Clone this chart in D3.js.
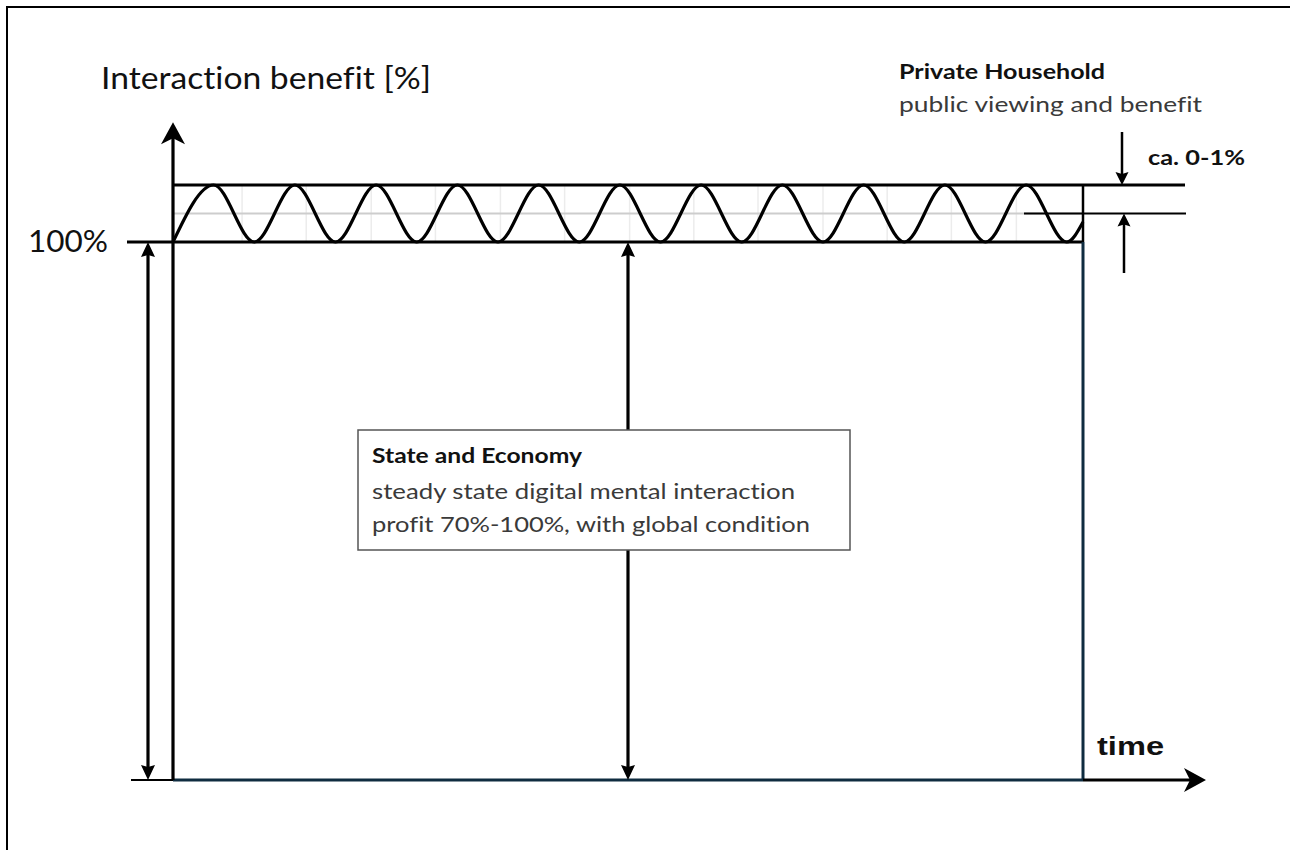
<!DOCTYPE html>
<html><head><meta charset="utf-8">
<script src="https://cdn.jsdelivr.net/npm/d3@7"></script>
<style>body{margin:0;background:#fff;overflow:hidden} svg{display:block} text{font-variant-ligatures:none;font-feature-settings:"liga" 0,"clig" 0}</style>
</head><body>
<svg id="c" width="1290" height="850"></svg>
<script>
// ---------- data ----------
const yLevels   = [0, 100, 101];          // base, 100 %, top of the private-household band (ca. 0-1 %)
const timeSpan  = [0, 11.2];              // time axis extent (in wave periods)
const waveT     = [0,0.5,1,1.5,2,2.5,3,3.5,4,4.5,5,5.5,6,6.5,7,7.5,8,8.5,9,9.5,10,10.5,11,11.2];
const waveV     = [100,101,100,101,100,101,100,101,100,101,100,101,100,101,100,101,100,101,100,101,100,101,100,100.35];
const gridT     = [0.85,1.64,2.44,3.23,4.03,4.82,5.62,6.41,7.2,8.0,8.79,9.58,10.38];
const bandMid   = 100.5;
const yAxisTop  = 102.1;
const midArrowT = 5.6;
const titleText = "Interaction benefit [%]";
const yTickLabel = "100%";
const phTitle = "Private Household";
const phText  = "public viewing and benefit";
const phRange = "ca. 0-1%";
const seTitle = "State and Economy";
const seLines = ["steady state digital mental interaction", "profit 70%-100%, with global condition"];
const xLabel  = "time";

// ---------- scales ----------
const x = d3.scaleLinear().domain(timeSpan).range([173, 1083]);
const y = d3.scaleLinear().domain(yLevels).range([780, 242, 185]);

const svg = d3.select("#c");
const navy = "#0f2c40";
const FONT = "Lato, 'Open Sans', sans-serif";

function line(x1,y1,x2,y2,w,c){
  svg.append("line").attr("x1",x1).attr("y1",y1).attr("x2",x2).attr("y2",y2)
    .attr("stroke",c||"#000").attr("stroke-width",w);
}
// arrow head: tip at (tx,ty), pointing direction dir ('up','down','right')
function head(tx,ty,dir,len,hw,notch){
  let pts;
  if(dir==="up")   pts=[[tx,ty],[tx+hw,ty+len],[tx,ty+len-notch],[tx-hw,ty+len]];
  if(dir==="down") pts=[[tx,ty],[tx+hw,ty-len],[tx,ty-len+notch],[tx-hw,ty-len]];
  if(dir==="right")pts=[[tx,ty],[tx-len,ty-hw],[tx-len+notch,ty],[tx-len,ty+hw]];
  svg.append("path").attr("d","M"+pts.map(p=>p.join(",")).join("L")+"Z").attr("fill","#000");
}

// outer frame (top & left edges visible)
svg.append("path").attr("d","M7,850 L7,7 L1290,7").attr("fill","none").attr("stroke","#000").attr("stroke-width",2);

// grid inside band
svg.selectAll(".g").data(gridT).enter().append("line")
  .attr("x1",d=>x(d)).attr("x2",d=>x(d)).attr("y1",y(101)).attr("y2",y(100))
  .attr("stroke","#ececec").attr("stroke-width",1.5);
line(x(0), y(bandMid), x(timeSpan[1]), y(bandMid), 2, "#cdcdcd");

// band lines
line(x(0), y(101), 1185, y(101), 3);
line(127, y(100), x(timeSpan[1]), y(100), 3);
line(x(timeSpan[1]), y(101), x(timeSpan[1]), y(100), 2.5);
// right annotation level line
line(1024, y(bandMid), 1186, y(bandMid), 2);

// wave
const waveData = waveT.map((t,i)=>[t, waveV[i]]);
svg.append("path").datum(waveData)
  .attr("d", d3.line().x(d=>x(d[0])).y(d=>y(d[1])).curve(d3.curveMonotoneX))
  .attr("fill","none").attr("stroke","#000").attr("stroke-width",3.2);

// right vertical (navy) and x-axis
line(x(timeSpan[1]), y(100), x(timeSpan[1]), y(0), 3, navy);
line(131, y(0), x(0), y(0), 2);
line(x(0), y(0), x(timeSpan[1]), y(0), 3, navy);
line(x(timeSpan[1]), y(0), 1195, y(0), 3);
head(1206, y(0), "right", 22, 12, 6);

// y-axis
line(x(0), y(0), x(0), y(yAxisTop)+8, 3.2);
head(x(0), y(yAxisTop), "up", 22, 12, 6);

// left double arrow
line(148, y(100)+8, 148, y(0)-8, 3.2);
head(148, y(100), "up", 15, 7, 2);
head(148, y(0), "down", 15, 7, 2);

// middle double arrow
line(x(midArrowT), y(100)+8, x(midArrowT), y(0)-8, 3.2);
head(x(midArrowT), y(100), "up", 15, 7, 2);
head(x(midArrowT), y(0), "down", 15, 7, 2);

// right annotation arrows
line(1122, 132, 1122, y(101)-6, 2.5);
head(1122, y(101), "down", 13, 6.5, 2);
line(1124, 273, 1124, y(bandMid)+6, 2.5);
head(1124, y(bandMid), "up", 13, 6.5, 2);

// box
svg.append("rect").attr("x",358).attr("y",430).attr("width",492).attr("height",120)
  .attr("fill","#fff").attr("stroke","#555").attr("stroke-width",1.5);

function text(tx,ty,s,size,weight,color,len,family){
  const t = svg.append("text").attr("x",tx).attr("y",ty).text(s)
    .attr("font-family",family||FONT).attr("font-size",size).attr("font-weight",weight||400)
    .attr("fill",color||"#000");
  if(len) t.attr("textLength",len).attr("lengthAdjust","spacingAndGlyphs");
  return t;
}
text(101, 89, titleText, 30, 400, "#111", 330);
text(28, 252, yTickLabel, 30, 400, "#111", 80);
text(899, 79, phTitle, 21, 700, "#111", 206);
text(899, 112, phText, 21, 400, "#3a3a3a", 303);
text(1148, 165, phRange, 21, 700, "#111", 97);
text(372, 463, seTitle, 21, 700, "#111", 210);
text(372, 499, seLines[0], 21, 400, "#3a3a3a", 423);
text(372, 532, seLines[1], 21, 400, "#3a3a3a", 438);
text(1097, 755, xLabel, 25, 700, "#111", 67, "'Liberation Sans', Arial, sans-serif");
</script>
</body></html>
